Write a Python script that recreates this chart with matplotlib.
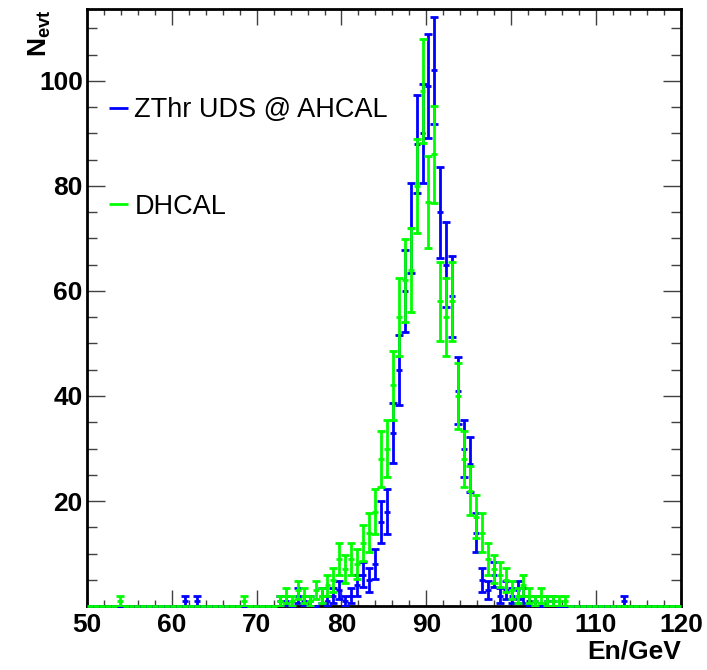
import numpy as np
import matplotlib
matplotlib.use('Agg')
import matplotlib.pyplot as plt

# Histogram binning: 100 bins from 50 to 120 GeV
x_low = 50.0
x_high = 120.0
n_bins = 100

# Bin contents (bin index -> entries)
blue_counts = {16: 1, 18: 1, 32: 1, 33: 1, 35: 2, 36: 1, 37: 1, 39: 2, 40: 1,
               41: 2, 42: 3, 43: 1, 44: 2, 45: 4, 46: 6, 47: 5, 48: 8, 49: 16,
               50: 18, 51: 33, 52: 45, 53: 60, 54: 72, 55: 88, 56: 90, 57: 99,
               58: 102, 59: 75, 60: 65, 61: 59, 62: 41, 63: 30, 64: 27, 65: 14,
               66: 5, 67: 3, 68: 6, 69: 2, 70: 3, 71: 2, 72: 3, 73: 2, 74: 1,
               75: 1, 77: 1, 78: 1, 90: 1}
green_counts = {5: 1, 26: 1, 32: 1, 33: 2, 34: 1, 35: 3, 36: 2, 37: 1, 38: 3,
                39: 2, 40: 4, 41: 5, 42: 9, 43: 7, 44: 9, 45: 8, 46: 12, 47: 14,
                48: 18, 49: 28, 50: 30, 51: 42, 52: 55, 53: 62, 54: 64, 55: 80,
                56: 98, 57: 77, 58: 86, 59: 58, 60: 55, 61: 58, 62: 40, 63: 28,
                64: 22, 65: 17, 66: 14, 67: 9, 68: 7, 69: 6, 70: 5, 71: 3,
                72: 2, 73: 4, 74: 2, 75: 1, 76: 2, 77: 1, 78: 1, 79: 1, 80: 1}

labels = ['ZThr UDS @ AHCAL', 'DHCAL']
colors = ['#0000ff', '#00ff00']

plt.rcParams['mathtext.fontset'] = 'custom'
plt.rcParams['mathtext.rm'] = 'Liberation Sans'
plt.rcParams['mathtext.bf'] = 'Liberation Sans:bold'


def toArray(counts):
    arr = np.zeros(n_bins)
    for k, v in counts.items():
        arr[k] = v
    return arr


def main():
    edges = np.linspace(x_low, x_high, n_bins + 1)
    centers = 0.5 * (edges[:-1] + edges[1:])

    fig = plt.figure(figsize=(7.07, 6.70), dpi=100)
    ax = fig.add_axes([0.123, 0.0955, 0.840, 0.891])

    for counts, col, lab in zip([blue_counts, green_counts], colors, labels):
        y = toArray(counts)
        # bin content as a horizontal segment over the bin width
        ax.hlines(y, edges[:-1], edges[1:], colors=col, linewidth=2.0,
                  label=lab, clip_on=False, zorder=3)
        nz = y > 0
        ax.errorbar(centers[nz], y[nz], yerr=np.sqrt(y[nz]), fmt='none',
                    ecolor=col, elinewidth=2.0, capsize=3, capthick=2.0,
                    zorder=3)

    ax.set_xlim(x_low, x_high)
    ax.set_ylim(0, 113.7)
    ax.set_xticks(np.arange(50, 121, 10))
    ax.set_xticks(np.arange(50, 121, 2), minor=True)
    ax.set_yticks(np.arange(20, 101, 20))
    ax.set_yticks(np.arange(0, 114, 5), minor=True)

    ax.tick_params(which='both', direction='in', top=True, right=True,
                   width=1.0, color='#404040')
    ax.tick_params(axis='x', which='major', length=11.5, pad=5)
    ax.tick_params(axis='x', which='minor', length=4.5)
    ax.tick_params(axis='y', which='major', length=13, pad=3)
    ax.tick_params(axis='y', which='minor', length=7)
    for lbl in ax.get_xticklabels() + ax.get_yticklabels():
        lbl.set_fontfamily('Liberation Sans')
        lbl.set_fontweight('bold')
        lbl.set_fontsize(19)
    for sp in ax.spines.values():
        sp.set_linewidth(2.0)

    ax.set_xlabel('En/GeV', fontsize=19, fontweight='bold',
                  fontfamily='Liberation Sans', loc='right', labelpad=2)
    ax.set_ylabel(r'$\mathbf{N}_{\mathbf{evt}}$', fontsize=19, loc='top')
    ax.yaxis.set_label_coords(-0.057, 1.0)

    handles, labs = ax.get_legend_handles_labels()
    ax.legend(handles, labs, loc='upper left',
              bbox_to_anchor=(-0.004, 0.893), frameon=False,
              handlelength=0.72, handletextpad=0.22, labelspacing=2.6,
              prop={'family': 'Liberation Sans', 'size': 19.5})

    plt.savefig('out.png')


if __name__ == '__main__':
    main()
